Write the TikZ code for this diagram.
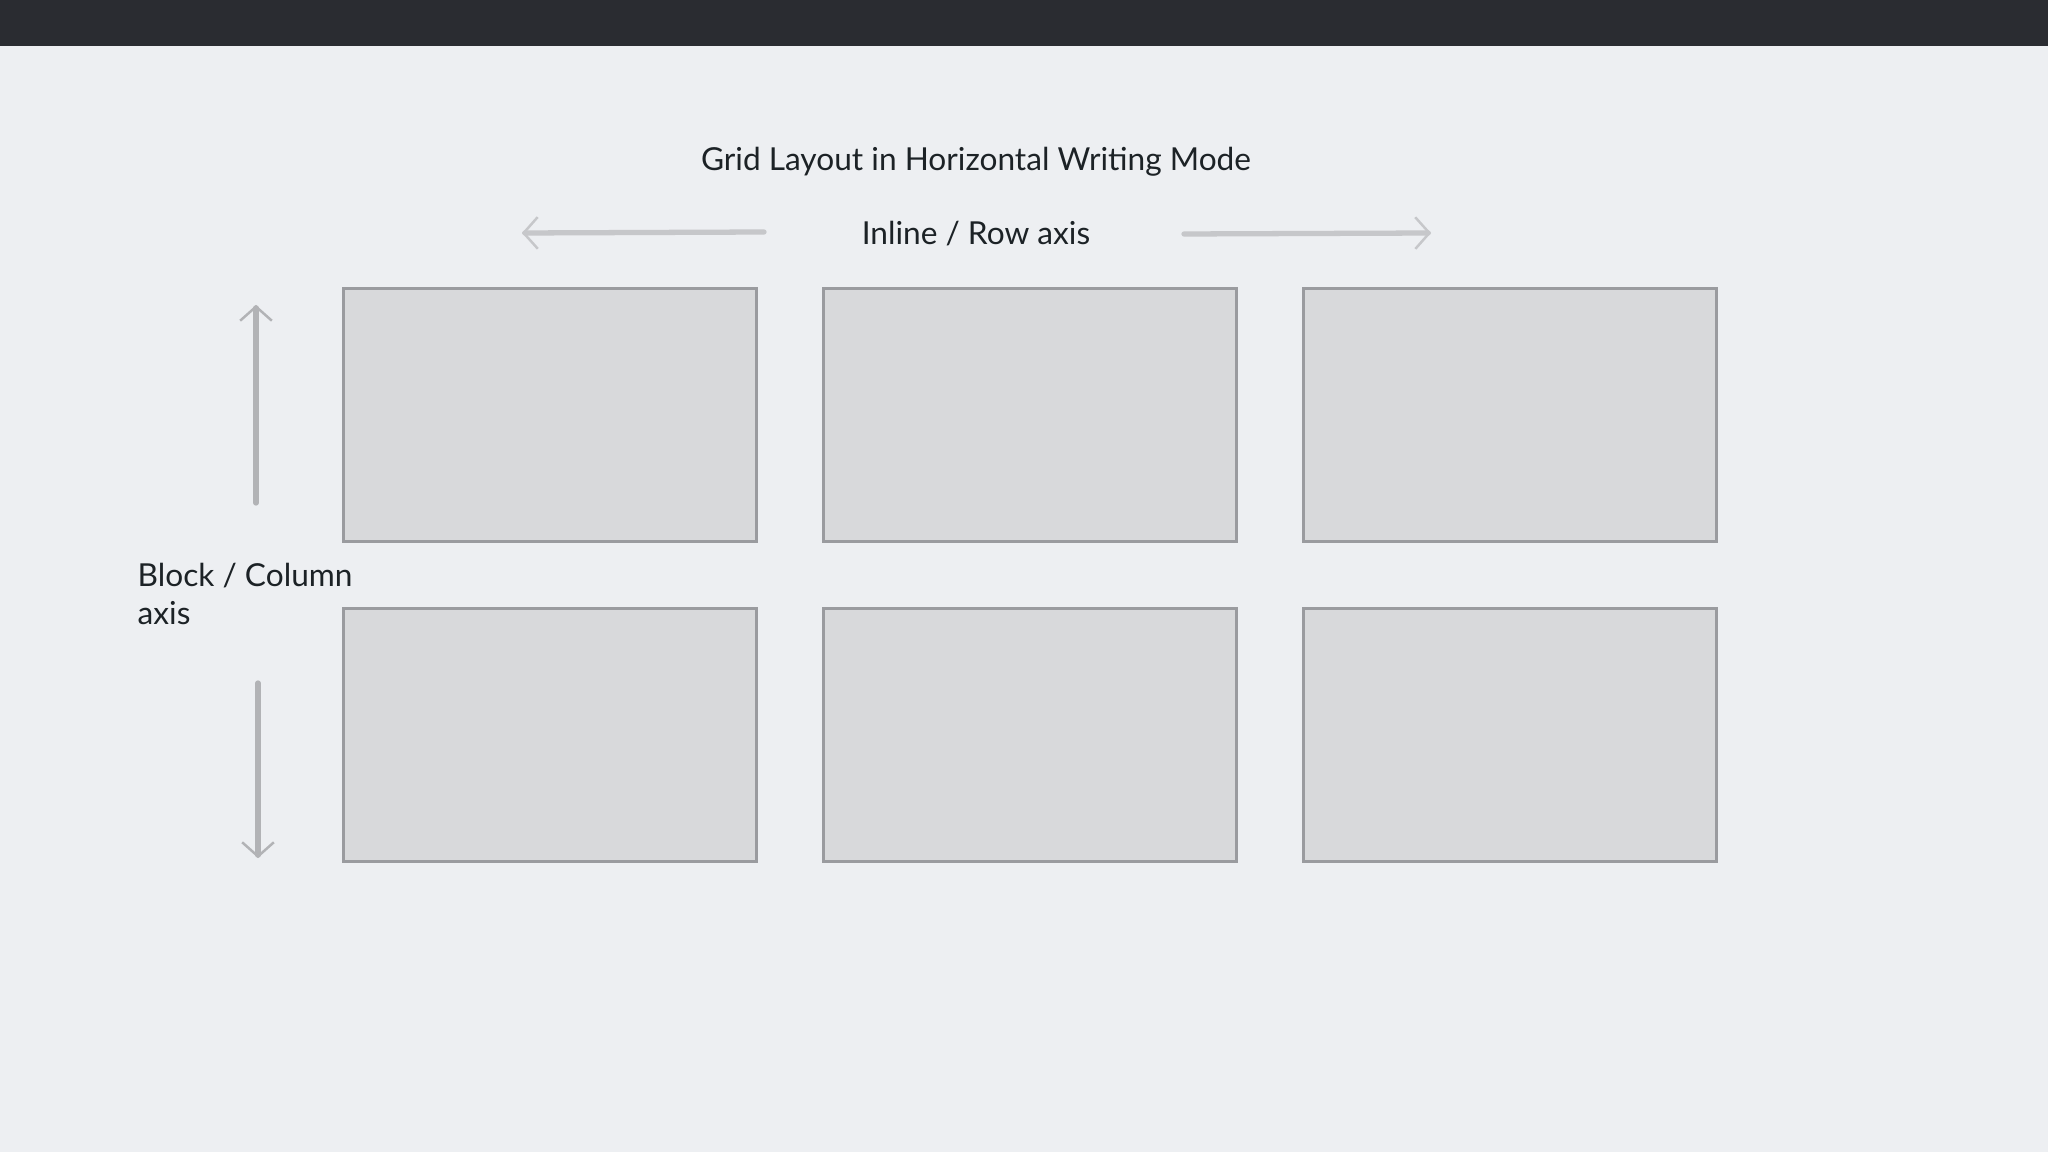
\documentclass[tikz,border=0pt]{standalone}
\usepackage{fontspec}
\setmainfont{Lato}
\usepackage{tikz}
\usetikzlibrary{arrows.meta}

\definecolor{bg}{HTML}{EDEFF2}
\definecolor{topbar}{HTML}{2A2C31}
\definecolor{cellfill}{HTML}{D8D9DB}
\definecolor{cellline}{HTML}{9A9B9F}
\definecolor{axisgray}{HTML}{C6C7CA}
\definecolor{axisdark}{HTML}{B2B3B6}
\definecolor{ink}{HTML}{1C2226}

\tikzset{
  cell/.style={draw=cellline, fill=cellfill, line width=0.85pt,
    minimum width=4.12cm, minimum height=2.52cm, inner sep=0pt},
  label/.style={text=ink, font=\fontsize{9}{10.8}\selectfont, inner sep=0pt},
  axis/.style={line width=1.5pt, line cap=round,
    -{Straight Barb[length=4pt, width=9pt, line width=0.7pt]}}
}

\begin{document}
\begin{tikzpicture}[x=0.01cm, y=-0.01cm]
    \fill[bg] (0,0) rectangle (2048,1152);
    \fill[topbar] (0,0) rectangle (2048,46);
    \useasboundingbox (0,0) rectangle (2048,1152);

    \node[label] (title) at (976,162) {Grid Layout in Horizontal Writing Mode};
    \node[label] (inline) at (976,234) {Inline / Row axis};
    \node[label, anchor=west, align=left] (block) at (137,594) {Block / Column\\axis};

    \node[cell] (c11) at (550,415) {};
    \node[cell] (c12) at (1030,415) {};
    \node[cell] (c13) at (1510,415) {};
    \node[cell] (c21) at (550,735) {};
    \node[cell] (c22) at (1030,735) {};
    \node[cell] (c23) at (1510,735) {};

    \coordinate (rowL0) at (764,232);
    \coordinate (rowL1) at (522,233);
    \coordinate (rowR0) at (1184,234);
    \coordinate (rowR1) at (1431,233);
    \coordinate (colU0) at (256,503);
    \coordinate (colU1) at (256,305);
    \coordinate (colD0) at (258,683);
    \coordinate (colD1) at (258,858);

    \draw[axis, axisgray] (rowL0) -- (rowL1);
    \draw[axis, axisgray] (rowR0) -- (rowR1);
    \draw[axis, axisdark] (colU0) -- (colU1);
    \draw[axis, axisdark] (colD0) -- (colD1);
\end{tikzpicture}
\end{document}
